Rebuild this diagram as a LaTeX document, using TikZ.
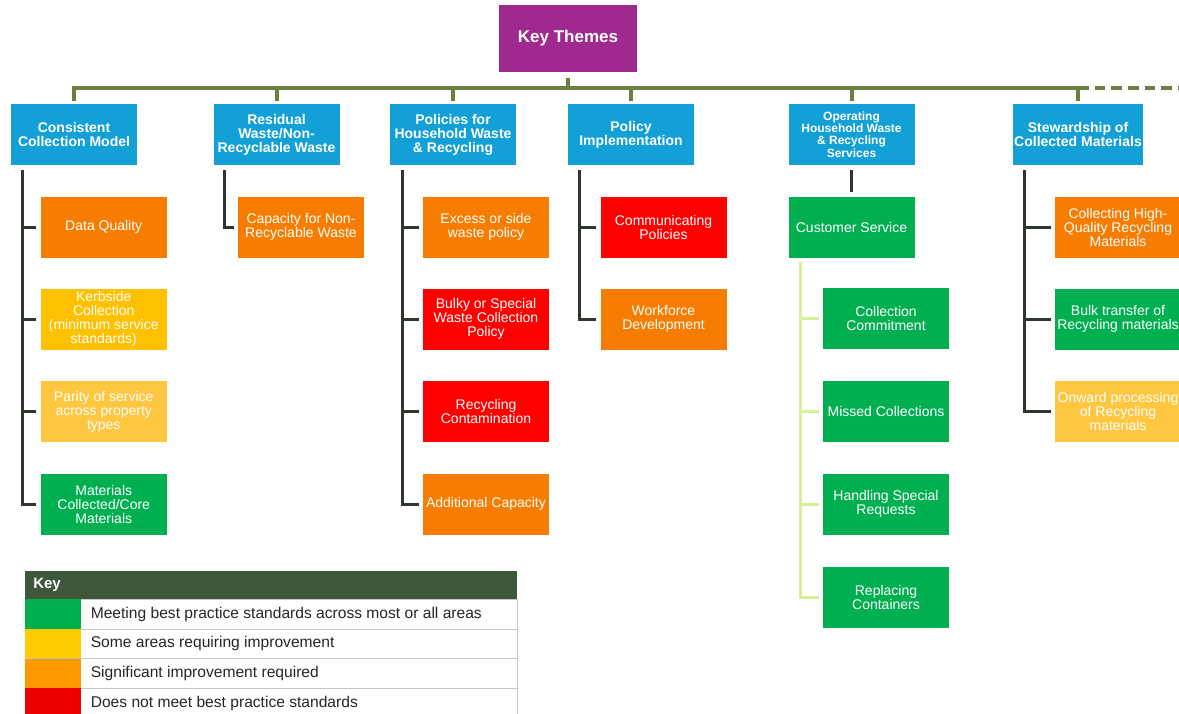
\documentclass[tikz,border=0pt]{standalone}
\usepackage{fontspec}
\setmainfont{Liberation Sans}
\definecolor{themepurple}{RGB}{160,41,144}
\definecolor{themeblue}{RGB}{18,160,215}
\definecolor{ragorange}{RGB}{246,124,2}
\definecolor{ragred}{RGB}{255,0,0}
\definecolor{ragyellow}{RGB}{255,192,0}
\definecolor{ragpale}{RGB}{255,198,64}
\definecolor{raggreen}{RGB}{0,176,80}
\definecolor{busgreen}{RGB}{108,126,64}
\definecolor{stemdark}{RGB}{44,54,44}
\definecolor{limegreen}{RGB}{214,240,150}
\definecolor{keyhead}{RGB}{62,86,60}
\definecolor{keygreen}{RGB}{0,176,80}
\definecolor{keyyellow}{RGB}{255,204,0}
\definecolor{keyorange}{RGB}{255,153,0}
\definecolor{keyred}{RGB}{238,0,0}
\tikzset{
	box/.style={minimum width=94.5pt, minimum height=45.75pt, inner sep=1pt, align=center, text=white, font={\fontsize{10.5}{10.5}\selectfont}},
	theme/.style={box, fill=themeblue, font={\fontsize{10.5}{10.5}\selectfont\bfseries}},
	keytheme/.style={box, fill=themepurple, minimum width=103.5pt, minimum height=50.25pt, font={\fontsize{12.75}{13}\selectfont\bfseries}},
	orangebox/.style={box, fill=ragorange},
	redbox/.style={box, fill=ragred},
	yellowbox/.style={box, fill=ragyellow},
	palebox/.style={box, fill=ragpale},
	greenbox/.style={box, fill=raggreen},
	busline/.style={draw=busgreen, line width=3pt},
	stem/.style={draw=stemdark, line width=2.25pt},
	substem/.style={draw=limegreen, line width=2.25pt},
	keytitle/.style={fill=keyhead, text=white, minimum height=21pt, text width=357pt, inner xsep=6pt, inner ysep=0pt, align=left, font={\fontsize{11.25}{13}\selectfont\bfseries}},
	keyrow/.style={draw=black!22, fill=white, minimum width=369pt, minimum height=22.3pt, inner sep=0pt},
	keyswatch/.style={minimum width=42pt, minimum height=22.3pt, inner sep=0pt},
	keytext/.style={inner sep=0pt, text=black!85, font={\fontsize{11.7}{14}\selectfont}}
}
\begin{document}
\begin{tikzpicture}[x=0.75pt,y=0.75pt,yscale=-1,xscale=1]
	\clip (0,0) rectangle (1179,714);
	\node[keytheme] (kt) at (568,38.5) {Key Themes};
	\node[theme] (ccm) at (74,134.5) {Consistent\\Collection Model};
	\node[theme] (rw) at (276.5,134.5) {Residual\\Waste/Non-\\Recyclable Waste};
	\node[theme] (phw) at (453,134.5) {Policies for\\Household Waste\\\&~Recycling};
	\node[theme] (pi) at (631,134.5) {Policy\\Implementation};
	\node[theme, font={\fontsize{9}{9.2}\selectfont\bfseries}] (ohw) at (851.5,134.5) {Operating\\Household Waste\\\&~Recycling\\Services};
	\node[theme] (scm) at (1078,134.5) {Stewardship of\\Collected Materials};
	\node[orangebox] (dq) at (103.75,227) {Data Quality};
	\node[yellowbox] (kc) at (103.75,319) {Kerbside\\Collection\\(minimum service\\standards)};
	\node[palebox] (ps) at (103.75,411.5) {Parity of service\\across property\\types};
	\node[greenbox] (mc) at (103.75,504) {Materials\\Collected/Core\\Materials};
	\node[orangebox] (cnr) at (301,227) {Capacity for Non-\\Recyclable Waste};
	\node[orangebox] (esw) at (486,227) {Excess or side\\waste policy};
	\node[redbox] (bsw) at (486,319) {Bulky or Special\\Waste Collection\\Policy};
	\node[redbox] (rc) at (486,411.5) {Recycling\\Contamination};
	\node[orangebox] (ac) at (486,504) {Additional Capacity};
	\node[redbox] (cp) at (663.5,227) {Communicating\\Policies};
	\node[orangebox] (wd) at (663.5,319) {Workforce\\Development};
	\node[greenbox] (cs) at (851.5,227) {Customer Service};
	\node[greenbox] (ccmt) at (886,318) {Collection\\Commitment};
	\node[greenbox] (mcol) at (886,411.5) {Missed Collections};
	\node[greenbox] (hsr) at (886,504) {Handling Special\\Requests};
	\node[greenbox] (rcon) at (886,597) {Replacing\\Containers};
	\node[orangebox] (chq) at (1118,227) {Collecting High-\\Quality Recycling\\Materials};
	\node[greenbox] (btr) at (1118,319) {Bulk transfer of\\Recycling materials};
	\node[palebox] (opr) at (1118,411.5) {Onward processing\\of Recycling\\materials};
	\coordinate (busL) at (74,88);
	\coordinate (busR) at (1078,88);
	\coordinate (busEnd) at (1179,88);
	\draw[busline, line cap=rect] (busL) -- (busR);
	\draw[busline, dash pattern=on 8pt off 4.5pt] (busR) -- (busEnd);
	\draw[busline, shorten <=4pt] (kt.south) -- (kt.south |- busL);
	\foreach \h in {ccm,rw,phw,pi,ohw,scm}
		\draw[busline, shorten >=2pt] (\h.north |- busL) -- (\h.north);
	\coordinate (s1) at (22,170);
	\coordinate (s2) at (224,170);
	\coordinate (s3) at (402,170);
	\coordinate (s4) at (579,170);
	\coordinate (s5) at (800,262);
	\coordinate (s6) at (1024,170);
	\draw[stem] (s1) |- ([xshift=-3pt]mc.west);
	\foreach \n in {dq,kc,ps}
		\draw[stem] (s1 |- \n.west) -- ([xshift=-3pt]\n.west);
	\draw[stem] (s2) |- ([xshift=-3pt]cnr.west);
	\draw[stem] (s3) |- ([xshift=-3pt]ac.west);
	\foreach \n in {esw,bsw,rc}
		\draw[stem] (s3 |- \n.west) -- ([xshift=-3pt]\n.west);
	\draw[stem] (s4) |- ([xshift=-3pt]wd.west);
	\draw[stem] (s4 |- cp.west) -- ([xshift=-3pt]cp.west);
	\draw[stem, shorten <=3.75pt, shorten >=3pt] (ohw.south) -- (cs.north);
	\draw[substem] (s5) |- ([xshift=-3pt]rcon.west);
	\foreach \n in {ccmt,mcol,hsr}
		\draw[substem] (s5 |- \n.west) -- ([xshift=-3pt]\n.west);
	\draw[stem] (s6) |- ([xshift=-3pt]opr.west);
	\foreach \n in {chq,btr}
		\draw[stem] (s6 |- \n.west) -- ([xshift=-3pt]\n.west);
	\node[keytitle, anchor=north west] (key) at (25,571) {Key};
	\foreach \clr/\txt [count=\i] in {keygreen/Meeting best practice standards across most or all areas, keyyellow/Some areas requiring improvement, keyorange/Significant improvement required, keyred/Does not meet best practice standards}{
		\node[keyrow, anchor=north west] (row\i) at (25,{569.3+\i*29.7}) {};
		\node[keyswatch, fill=\clr, anchor=north west] (sw\i) at (row\i.north west) {};
		\node[keytext, anchor=west] (txt\i) at ([xshift=6.75pt]sw\i.east) {\txt};
	}
\end{tikzpicture}
\end{document}
